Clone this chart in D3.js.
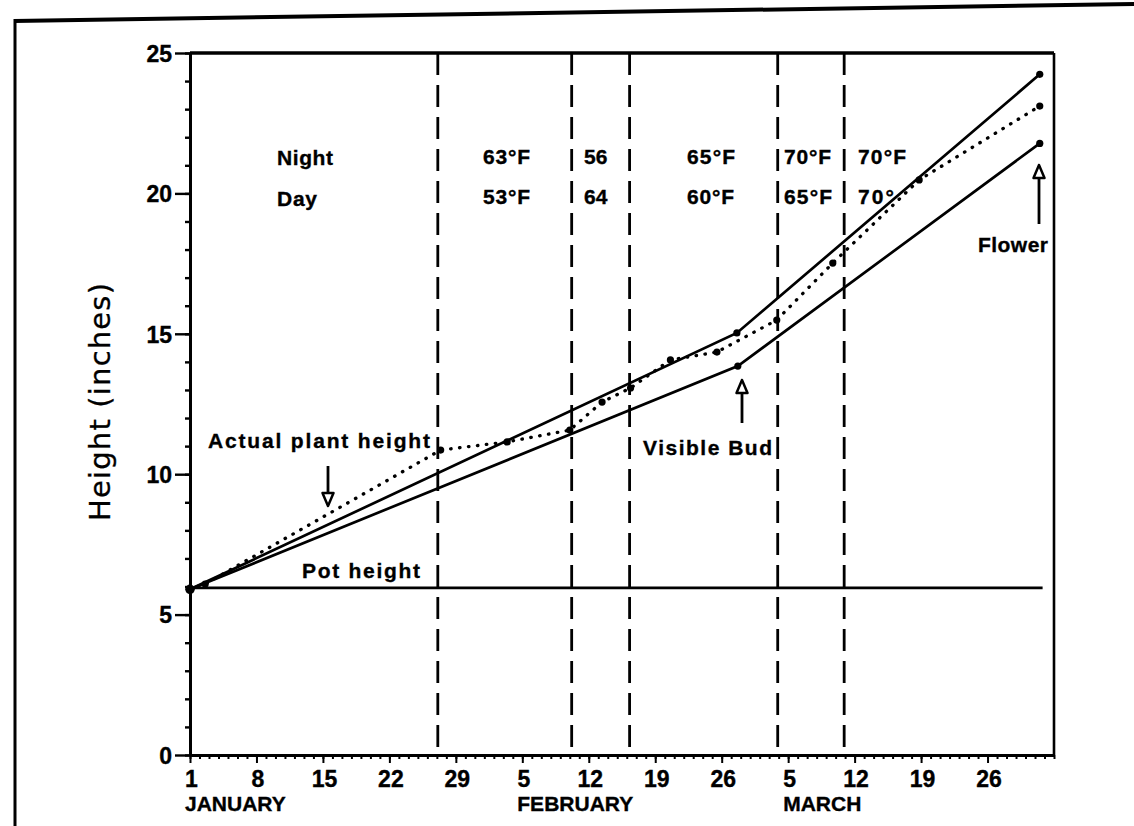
<!DOCTYPE html>
<html>
<head>
<meta charset="utf-8">
<script src="https://cdn.jsdelivr.net/npm/d3@7"></script>
<style>
  html, body { margin: 0; padding: 0; background: #fff; }
  svg { display: block; }
  text.b { font-family: "Liberation Sans", Arial, sans-serif; font-weight: bold; fill: #000; stroke: #000; stroke-width: 0.35px; }
</style>
</head>
<body>
<script>
// ---------------- data ----------------
const upperDays = [0, 57.6, 89.5];
const upperVals = [5.9, 15.03, 24.24];

const lowerDays = [0, 57.7, 89.5];
const lowerVals = [5.9, 13.85, 21.78];

const actualDays = [0, 1.6, 26.4, 33.4, 40.0, 43.4, 46.4, 50.6, 55.5, 61.8, 67.7, 76.8, 89.5];
const actualVals = [5.9, 6.09, 10.86, 11.15, 11.57, 12.57, 13.07, 14.07, 14.35, 15.49, 17.52, 20.48, 23.11];

const potDays = [0, 89.8];
const potVals = [5.95, 5.95];

const dashedDays = [26.1, 40.2, 46.3, 61.9, 68.9];

const nightTemps = ["63°F", "56", "65°F", "70°F", "70°F"];
const dayTemps   = ["53°F", "64", "60°F", "65°F", "70°"];

const xTickDays   = [0, 7, 14, 21, 28, 35, 42, 49, 56, 63, 70, 77, 84];
const xTickLabels = ["1", "8", "15", "22", "29", "5", "12", "19", "26", "5", "12", "19", "26"];
const monthLabels = ["JANUARY", "FEBRUARY", "MARCH"];
const monthDays   = [0, 35, 63];

const yTickValues = [0, 5, 10, 15, 20, 25];

// ---------------- layout ----------------
const W = 1134, H = 826;
const svg = d3.select("body").append("svg").attr("width", W).attr("height", H);
svg.append("rect").attr("width", W).attr("height", H).attr("fill", "#fff");

const x = d3.scaleLinear().domain([0, 91]).range([190, 1054]);
const y = d3.scaleLinear().domain([0, 25]).range([755, 53]);

// page frame
svg.append("line").attr("x1", 14).attr("y1", 21).attr("x2", 1134).attr("y2", 4)
  .attr("stroke", "#000").attr("stroke-width", 4);
svg.append("line").attr("x1", 15).attr("y1", 19).attr("x2", 15).attr("y2", 826)
  .attr("stroke", "#000").attr("stroke-width", 3);

// dashed verticals
svg.append("g").selectAll("line").data(dashedDays).join("line")
  .attr("x1", d => x(d)).attr("x2", d => x(d))
  .attr("y1", y(25)).attr("y2", y(0))
  .attr("stroke", "#000").attr("stroke-width", 2.8)
  .attr("stroke-dasharray", "22 10");

// plot frame top & right
svg.append("line").attr("x1", x(0)).attr("x2", x(91)).attr("y1", y(25)).attr("y2", y(25))
  .attr("stroke", "#000").attr("stroke-width", 3.5);
svg.append("line").attr("x1", x(91)).attr("x2", x(91)).attr("y1", y(25)).attr("y2", y(0))
  .attr("stroke", "#000").attr("stroke-width", 2.6);

// y axis
const yMinor = svg.append("g").attr("transform", `translate(${x(0)},0)`)
  .call(d3.axisLeft(y).tickValues(d3.range(0, 26, 1)).tickSize(5).tickSizeOuter(0).tickFormat(""));
const yMajor = svg.append("g").attr("transform", `translate(${x(0)},0)`)
  .call(d3.axisLeft(y).tickValues(yTickValues).tickSize(15).tickSizeOuter(0).tickPadding(3).tickFormat(d3.format("d")));
[yMinor, yMajor].forEach(g => {
  g.select(".domain").attr("stroke", "#000").attr("stroke-width", 3);
  g.selectAll(".tick line").attr("stroke", "#000").attr("stroke-width", 2.4);
});
yMajor.selectAll(".tick text").attr("class", "b").attr("font-size", 23)
  .attr("fill", "#000").attr("dy", "0.36em");

// x axis
const xMinor = svg.append("g").attr("transform", `translate(0,${y(0)})`)
  .call(d3.axisBottom(x).tickValues(d3.range(0, 92, 1)).tickSize(4).tickSizeOuter(0).tickFormat(""));
const xMajor = svg.append("g").attr("transform", `translate(0,${y(0)})`)
  .call(d3.axisBottom(x).tickValues(xTickDays).tickSize(8).tickSizeOuter(0).tickPadding(8)
    .tickFormat((d, i) => xTickLabels[i]));
[xMinor, xMajor].forEach(g => {
  g.select(".domain").attr("stroke", "#000").attr("stroke-width", 3.2);
  g.selectAll(".tick line").attr("stroke", "#000").attr("stroke-width", 2);
});
xMajor.selectAll(".tick text").attr("class", "b").attr("font-size", 23)
  .attr("fill", "#000").attr("dx", 1);

svg.append("g").selectAll("text").data(monthLabels).join("text")
  .attr("class", "b")
  .attr("x", (d, i) => x(monthDays[i]) - 5).attr("y", 811)
  .attr("font-size", 21).text(d => d);

// y axis title
svg.append("text")
  .attr("transform", "translate(110,402) rotate(-90)")
  .attr("text-anchor", "middle")
  .style("font-family", "'DejaVu Sans', sans-serif").style("font-weight", "normal")
  .attr("fill", "#000").attr("stroke", "#000").attr("stroke-width", 0.3)
  .attr("font-size", 29).attr("textLength", 238).attr("lengthAdjust", "spacing")
  .text("Height (inches)");

// lines
const line = d3.line().x(d => x(d[0])).y(d => y(d[1]));
const zip = (a, b) => a.map((d, i) => [d, b[i]]);

svg.append("path").datum(zip(potDays, potVals)).attr("d", line)
  .attr("fill", "none").attr("stroke", "#000").attr("stroke-width", 2.8);
svg.append("path").datum(zip(upperDays, upperVals)).attr("d", line)
  .attr("fill", "none").attr("stroke", "#000").attr("stroke-width", 2.7);
svg.append("path").datum(zip(lowerDays, lowerVals)).attr("d", line)
  .attr("fill", "none").attr("stroke", "#000").attr("stroke-width", 2.7);
svg.append("path").datum(zip(actualDays, actualVals)).attr("d", line)
  .attr("fill", "none").attr("stroke", "#000").attr("stroke-width", 3.3)
  .attr("stroke-linecap", "round").attr("stroke-dasharray", "0.5 8.5");

// markers
const markerPts = zip(actualDays, actualVals)
  .concat(zip(upperDays, upperVals).slice(1))
  .concat(zip(lowerDays, lowerVals).slice(1));
svg.append("g").selectAll("circle").data(markerPts).join("circle")
  .attr("cx", d => x(d[0])).attr("cy", d => y(d[1])).attr("r", 3.6).attr("fill", "#000");
svg.append("circle").attr("cx", x(0)).attr("cy", y(5.9)).attr("r", 4.8).attr("fill", "#000");

// temperature table
const tempX = [483, 584, 687, 784, 858];
const tempLen = [47, 0, 48, 47, 48];
const tempLenDay = [47, 0, 47, 48, 36];
function tlabel(t, x0, yb, len) {
  const el = svg.append("text").attr("class", "b").attr("x", x0).attr("y", yb).attr("font-size", 21).text(t);
  if (len) el.attr("textLength", len).attr("lengthAdjust", "spacing");
  return el;
}
tlabel("Night", 277, 165, 56);
tlabel("Day", 277, 206, 40);
nightTemps.forEach((t, i) => tlabel(t, tempX[i], 164, tempLen[i]));
dayTemps.forEach((t, i) => tlabel(t, tempX[i], 204, tempLenDay[i]));

// annotations
tlabel("Actual plant height", 208, 448, 222);
tlabel("Pot height", 302, 578, 118);
tlabel("Visible Bud", 643, 455, 129);
tlabel("Flower", 978, 252, 70);

function arrow(ax, yTail, yTip) {
  const dir = yTip > yTail ? 1 : -1;
  const headLen = 13, hw = 5.5;
  const yBase = yTip - dir * headLen;
  svg.append("line").attr("x1", ax).attr("x2", ax).attr("y1", yTail).attr("y2", yBase)
    .attr("stroke", "#000").attr("stroke-width", 2.8);
  svg.append("path")
    .attr("d", `M${ax - hw},${yBase} L${ax + hw},${yBase} L${ax},${yTip} Z`)
    .attr("fill", "#fff").attr("stroke", "#000").attr("stroke-width", 2.5)
    .attr("stroke-linejoin", "round");
}
arrow(328, 466, 506);
arrow(742, 423, 380);
arrow(1039, 224, 165);
</script>
</body>
</html>
